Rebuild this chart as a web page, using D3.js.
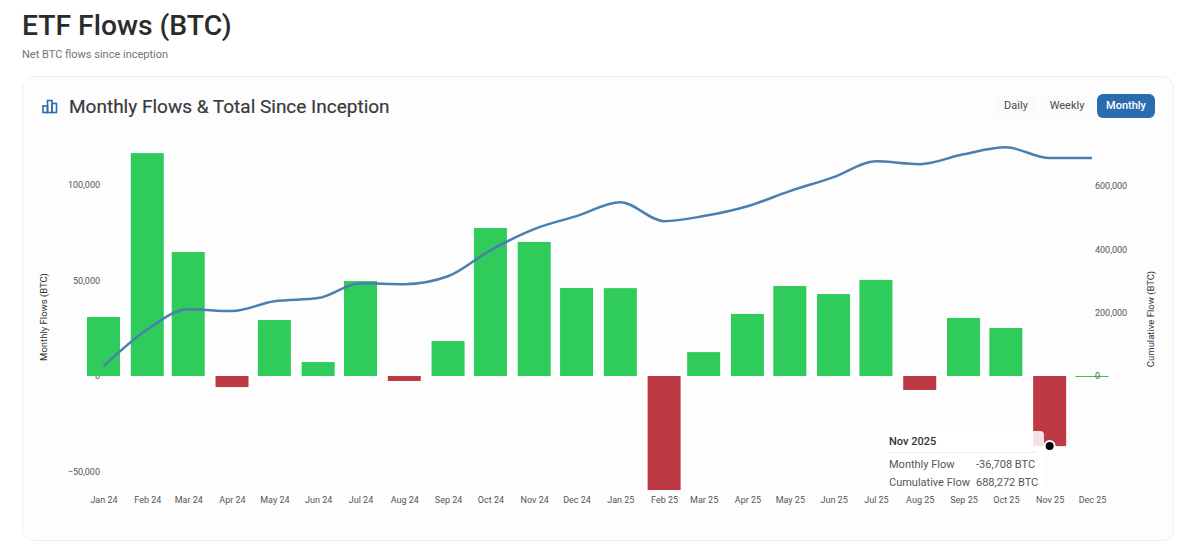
<!DOCTYPE html>
<html>
<head>
<meta charset="utf-8">
<script src="https://cdn.jsdelivr.net/npm/d3@7"></script>
<style>
  html, body { margin: 0; padding: 0; background: #fff; overflow: hidden; }
  body { width: 1200px; height: 555px; position: relative; font-family: Roboto, sans-serif; color: #2f2f2f; }
  h1 { position: absolute; left: 22px; top: 7px; margin: 0; font-size: 28.3px; line-height: 38px; font-weight: 500; color: #2b2b2b; }
  .sub { position: absolute; left: 22px; top: 48px; font-size: 11px; line-height: 14px; color: #6f757b; }
  .card { position: absolute; left: 22px; top: 76px; width: 1150px; height: 463px; background: #fdfdfd; border: 1px solid #f0f0f0; border-radius: 12px; }
  .card-title { position: absolute; left: 69px; top: 94px; font-size: 19px; line-height: 26px; font-weight: 400; color: #383a3d; -webkit-text-stroke: 0.2px #383a3d; }
  .btn { position: absolute; top: 94px; height: 24px; line-height: 24px; text-align: center; font-size: 11px; color: #4a4a4a; background: #fbfbfb; border-radius: 6px; }
  .btn.on { background: #2b6cb0; color: #fff; font-weight: 500; }
  svg { position: absolute; left: 0; top: 0; }
  .tip { position: absolute; left: 882px; top: 431px; width: 162px; height: 60px; background: rgba(255,255,255,.85); border-radius: 4px; font-size: 11px; color: #555; }
  .tip b { position: absolute; left: 7px; top: 3px; line-height: 15px; font-weight: 500; color: #333; }
  .tip hr { position: absolute; left: 7px; top: 21px; width: 148px; margin: 0; border: 0; border-top: 1px solid #eee; }
  .tip span { position: absolute; line-height: 14px; white-space: nowrap; }
</style>
</head>
<body>
<h1>ETF Flows (BTC)</h1>
<div class="sub">Net BTC flows since inception</div>
<div class="card"></div>
<div class="card-title">Monthly Flows &amp; Total Since Inception</div>
<div class="btn" style="left:995px;width:42px">Daily</div>
<div class="btn" style="left:1040px;width:54px">Weekly</div>
<div class="btn on" style="left:1097px;width:58px">Monthly</div>
<svg id="chart" width="1200" height="555"></svg>
<div class="tip">
  <b>Nov 2025</b>
  <hr>
  <span style="left:7px;top:27px">Monthly Flow</span>
  <span style="left:94px;top:27px">-36,708 BTC</span>
  <span style="left:7px;top:45px">Cumulative Flow</span>
  <span style="left:94px;top:45px">688,272 BTC</span>
</div>
<svg id="marker" width="1200" height="555"></svg>
<script>
const months = ["Jan 24","Feb 24","Mar 24","Apr 24","May 24","Jun 24","Jul 24","Aug 24","Sep 24","Oct 24","Nov 24","Dec 24",
  "Jan 25","Feb 25","Mar 25","Apr 25","May 25","Jun 25","Jul 25","Aug 25","Sep 25","Oct 25","Nov 25","Dec 25"];
const monthlyFlow = [30900,116700,64900,-5800,29300,7300,49700,-2600,18300,77500,70200,46100,
  46000,-59700,12500,32500,47100,42900,50300,-7300,30400,25100,-36708,0];
const cumulativeFlow = [31000,147000,211000,205000,236000,246000,293000,290000,315000,397000,464000,505000,
  549000,489000,505000,536000,584000,628000,678000,669000,700000,722000,688272,688272];
const leftTicks = [-50000,0,50000,100000];
const rightTicks = [0,200000,400000,600000];

const green = "#2fcb5b", red = "#bd3a45", blue = "#4a7fb0";
const barWidth = 33;
const svg = d3.select("#chart");

// months sit on a real time axis, so Feb is a bit narrower than Jan
const parseMonth = d3.utcParse("%b %y");
const dates = months.map(parseMonth);
const x = d3.scaleUtc().domain(d3.extent(dates)).range([103.5, 1092]);
// 0 lands on a whole pixel so the Dec 25 line stays sharp
const yLeft = d3.scaleLinear().domain([-50000, 100000]).range([471.5, 185]);
const yRight = d3.scaleLinear().domain([0, 600000]).range([376, 186]);

// axes first, the bars sit on top of the 0 labels
const fmt = d3.format(",");
const xAxis = svg.append("g").attr("transform", "translate(0,494)")
  .call(d3.axisBottom(x).tickValues(dates).tickFormat(d3.utcFormat("%b %y")).tickSize(0).tickPadding(3));
const leftAxis = svg.append("g").attr("transform", "translate(100,0)")
  .call(d3.axisLeft(yLeft).tickValues(leftTicks).tickFormat(fmt).tickSize(0).tickPadding(0));
const rightAxis = svg.append("g").attr("transform", "translate(1095,0)")
  .call(d3.axisRight(yRight).tickValues(rightTicks).tickFormat(fmt).tickSize(0).tickPadding(0));
[xAxis, leftAxis, rightAxis].forEach(a => {
  a.select(".domain").remove();
  a.selectAll(".tick line").remove();
  a.selectAll("text").attr("fill", "#555").style("font-family", "Roboto, sans-serif").style("font-size", "9px");
});

svg.append("g").selectAll("rect").data(dates).join("rect")
  .attr("x", d => x(d) - barWidth / 2)
  .attr("width", barWidth)
  .attr("y", (d, i) => yLeft(Math.max(monthlyFlow[i], 0)))
  // Dec 25 has no flow yet but still shows as a thin line
  .attr("height", (d, i) => Math.max(Math.abs(yLeft(monthlyFlow[i]) - yLeft(0)), 1))
  .attr("fill", (d, i) => monthlyFlow[i] < 0 ? red : green);

const line = d3.line()
  .x(d => x(d))
  .y((d, i) => yRight(cumulativeFlow[i]))
  .curve(d3.curveMonotoneX);
svg.append("path").attr("d", line(dates))
  .attr("fill", "none").attr("stroke", blue).attr("stroke-width", 2.5).attr("stroke-linejoin", "round");

// the 0 on the right axis stays above the Dec 25 line
rightAxis.raise();

svg.append("text").attr("transform", "translate(47,317) rotate(-90)")
  .attr("text-anchor", "middle").attr("fill", "#333")
  .style("font-size", "9.5px").text("Monthly Flows (BTC)");
svg.append("text").attr("transform", "translate(1154,319) rotate(-90)")
  .attr("text-anchor", "middle").attr("fill", "#333")
  .style("font-size", "9.5px").text("Cumulative Flow (BTC)");

// chart icon in the card header
const icon = svg.append("g").attr("fill", "none").attr("stroke", "#2b6cb0").attr("stroke-width", 1.6);
icon.append("rect").attr("x", 43).attr("y", 106).attr("width", 4.5).attr("height", 6.5);
icon.append("rect").attr("x", 47.5).attr("y", 100.5).attr("width", 4.5).attr("height", 12);
icon.append("rect").attr("x", 52).attr("y", 103.5).attr("width", 4.5).attr("height", 9);

// hovered point of Nov 25, drawn over the tooltip
const hovered = months.indexOf("Nov 25");
d3.select("#marker").append("circle")
  .attr("cx", x(dates[hovered]))
  .attr("cy", yLeft(monthlyFlow[hovered]))
  .attr("r", 5).attr("fill", "#000").attr("stroke", "#fff").attr("stroke-width", 2);
</script>
</body>
</html>
